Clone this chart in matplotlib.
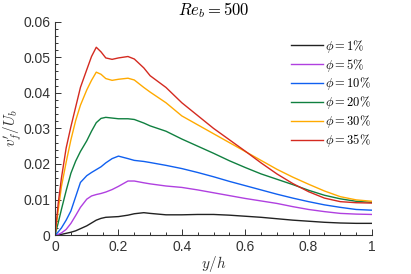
import numpy as np
import matplotlib
matplotlib.use('Agg')
import matplotlib.pyplot as plt
from matplotlib.ticker import MultipleLocator

plt.rcParams['font.family'] = ['Liberation Sans', 'DejaVu Sans']
plt.rcParams['mathtext.fontset'] = 'cm'

# y/h positions (same for every profile)
yh = [0.0, 0.01, 0.02, 0.035, 0.05, 0.065, 0.08, 0.1, 0.115, 0.13, 0.145, 0.16,
      0.18, 0.2, 0.23, 0.25, 0.28, 0.3, 0.35, 0.4, 0.45, 0.5, 0.55, 0.6,
      0.65, 0.7, 0.75, 0.8, 0.85, 0.9, 0.95, 1.0]

phi1 = [0.0, 0.0001, 0.0002, 0.0005, 0.0008, 0.0012, 0.0018, 0.0026, 0.0034, 0.0042, 0.0047, 0.0050,
        0.0051, 0.0052, 0.0056, 0.0060, 0.0063, 0.0061, 0.0057, 0.0057, 0.0058, 0.0058, 0.0056, 0.0053,
        0.0050, 0.0046, 0.0042, 0.0039, 0.0036, 0.0034, 0.0033, 0.0033]
phi5 = [0.0, 0.0002, 0.0006, 0.0016, 0.0033, 0.0055, 0.0078, 0.0101, 0.0110, 0.0114, 0.0117, 0.0121,
        0.0128, 0.0137, 0.0152, 0.0152, 0.0147, 0.0144, 0.0138, 0.0134, 0.0127, 0.0119, 0.0111, 0.0103,
        0.0096, 0.0089, 0.0080, 0.0072, 0.0066, 0.0061, 0.0059, 0.0058]
phi10 = [0.0, 0.0009, 0.0020, 0.0042, 0.0068, 0.0108, 0.0148, 0.0167, 0.0176, 0.0184, 0.0192, 0.0203,
         0.0215, 0.0222, 0.0215, 0.0210, 0.0207, 0.0204, 0.0196, 0.0187, 0.0176, 0.0164, 0.0151, 0.0139,
         0.0127, 0.0115, 0.0104, 0.0094, 0.0085, 0.0078, 0.0072, 0.0070]
phi20 = [0.0, 0.0035, 0.0072, 0.0125, 0.0174, 0.0208, 0.0235, 0.0265, 0.0292, 0.0316, 0.0328, 0.0331,
         0.0329, 0.0327, 0.0327, 0.0325, 0.0315, 0.0307, 0.0292, 0.0270, 0.0250, 0.0230, 0.0209, 0.0190,
         0.0172, 0.0157, 0.0142, 0.0126, 0.0112, 0.0102, 0.0095, 0.0092]
phi30 = [0.0, 0.0070, 0.0136, 0.0205, 0.0268, 0.0322, 0.0365, 0.0408, 0.0435, 0.0458, 0.0452, 0.0440,
         0.0435, 0.0438, 0.0441, 0.0436, 0.0415, 0.0402, 0.0372, 0.0335, 0.0310, 0.0285, 0.0260, 0.0235,
         0.0210, 0.0185, 0.0163, 0.0143, 0.0124, 0.0108, 0.0099, 0.0095]
phi35 = [0.0, 0.0090, 0.0160, 0.0245, 0.0305, 0.0360, 0.0415, 0.0465, 0.0502, 0.0528, 0.0515, 0.0498,
         0.0494, 0.0498, 0.0502, 0.0495, 0.0470, 0.0448, 0.0415, 0.0372, 0.0336, 0.0300, 0.0268, 0.0236,
         0.0203, 0.0172, 0.0145, 0.0122, 0.0104, 0.0094, 0.0091, 0.0090]

series = [phi1, phi5, phi10, phi20, phi30, phi35]
labels = [r'$\phi = 1\%$', r'$\phi = 5\%$', r'$\phi = 10\%$',
          r'$\phi = 20\%$', r'$\phi = 30\%$', r'$\phi = 35\%$']
colors = ['#222222', '#b040e0', '#1060f0', '#108040', '#ffaa00', '#d42a20']

fig = plt.figure(figsize=(4.11, 2.74), dpi=100)
ax = fig.add_axes([0.134, 0.142, 0.771, 0.779])

for s, lab, c in zip(series, labels, colors):
    ax.plot(yh, s, color=c, lw=1.0, label=lab)

ax.set_xlim(0, 1)
ax.set_ylim(0, 0.06)
ax.set_xticks([0, 0.2, 0.4, 0.6, 0.8, 1])
ax.set_xticklabels(['0', '0.2', '0.4', '0.6', '0.8', '1'])
ax.set_yticks([0, 0.01, 0.02, 0.03, 0.04, 0.05, 0.06])
ax.set_yticklabels(['0', '0.01', '0.02', '0.03', '0.04', '0.05', '0.06'])
ax.xaxis.set_minor_locator(MultipleLocator(0.05))
ax.yaxis.set_minor_locator(MultipleLocator(0.002))
ax.tick_params(which='both', direction='in', labelsize=10, colors='#333333', width=0.7)
ax.tick_params(which='major', length=4)
ax.tick_params(which='minor', length=2.5)
for sp in ['top', 'right']:
    ax.spines[sp].set_visible(False)
for sp in ['left', 'bottom']:
    ax.spines[sp].set_color('#333333')
    ax.spines[sp].set_linewidth(0.8)

ax.set_xlabel(r'$y/h$', fontsize=11, color='#333333', labelpad=0)
ax.set_ylabel(r"$v_f^{\prime}/U_b$", fontsize=11, color='#333333', labelpad=0)
ax.set_title(r'$Re_b = 500$', fontsize=12, pad=5)

ax.legend(loc='upper right', bbox_to_anchor=(1.02, 0.96), frameon=False, fontsize=9,
          handlelength=2.5, handletextpad=0.2, labelspacing=0.15, borderaxespad=0.2)

fig.savefig('out.png', dpi=100)
